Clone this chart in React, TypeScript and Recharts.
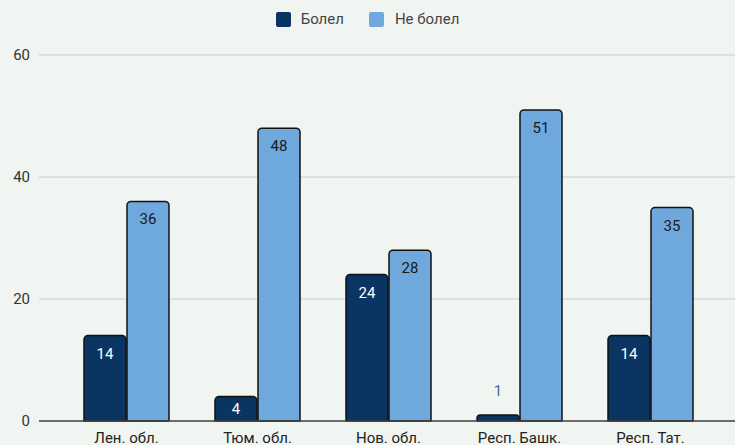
import React from 'react';
import { BarChart, Bar, XAxis, YAxis, CartesianGrid, Legend, LabelList, ReferenceLine } from 'recharts';

const regions = ['Лен. обл.', 'Тюм. обл.', 'Нов. обл.', 'Респ. Башк.', 'Респ. Тат.'];
const sick = [14, 4, 24, 1, 14];
const notSick = [36, 48, 28, 51, 35];
const yTicks = [0, 20, 40, 60];

const DARK = '#0a3461';
const LIGHT = '#6fa8dc';
const FONT = 'Roboto, "Noto Sans", sans-serif';

const data = regions.map((name, i) => ({ name, sick: sick[i], notSick: notSick[i] }));

// label inside the bar top, or above it when the bar is too short
const makeLabel = (inside: string) => (props: any) => {
  const { x, y, width, height, value } = props;
  const cx = Number(x) + Number(width) / 2;
  const h = Number(height);
  if (h < 15) {
    return (
      <text x={cx} y={Number(y) - 24} textAnchor="middle" dominantBaseline="central" fill="#44689a" fontSize={15} fontFamily={FONT}>
        {value}
      </text>
    );
  }
  return (
    <text x={cx} y={Number(y) + Math.min(18, h / 2)} textAnchor="middle" dominantBaseline="central" fill={inside} fontSize={15} fontFamily={FONT}>
      {value}
    </text>
  );
};

const CustomLegend = () => (
  <div style={{ display: 'flex', justifyContent: 'center', alignItems: 'center', fontFamily: FONT, fontSize: 15, color: '#444' }}>
    <span style={{ display: 'inline-block', width: 15, height: 15, background: DARK, borderRadius: 2, marginRight: 10 }} />
    <span style={{ marginRight: 25 }}>Болел</span>
    <span style={{ display: 'inline-block', width: 15, height: 15, background: LIGHT, borderRadius: 2, marginRight: 11 }} />
    <span>Не болел</span>
  </div>
);

export default function App() {
  return (
    <div style={{ position: 'fixed', left: 0, top: 0, width: 735, height: 445, background: '#f1f5f2', overflow: 'hidden' }}>
      <BarChart width={735} height={445} data={data} margin={{ top: 55, right: 0, bottom: 0, left: 0 }} barGap={1} barSize={42}>
        <CartesianGrid vertical={false} stroke="#d6d9d7" strokeWidth={1.5} />
        <XAxis
          dataKey="name"
          height={24}
          tickSize={0}
          tickMargin={11}
          axisLine={false}
          tickLine={false}
          padding={{ left: 22, right: 19 }}
          tick={{ fill: '#222', fontSize: 15, fontFamily: FONT }}
        />
        <YAxis
          width={39}
          domain={[0, 60]}
          ticks={yTicks}
          tickSize={0}
          tickMargin={9}
          axisLine={false}
          tickLine={false}
          tick={{ fill: '#333', fontSize: 15, fontFamily: FONT }}
        />
        <ReferenceLine y={0} stroke="#444" strokeWidth={1.5} />
        <Legend layout="horizontal" verticalAlign="middle" align="center" wrapperStyle={{ top: 10, left: 0, width: 735 }} content={<CustomLegend />} />
        <Bar dataKey="sick" fill={DARK} stroke="#111" strokeWidth={1.5} radius={[4, 4, 0, 0]} isAnimationActive={false}>
          <LabelList dataKey="sick" content={makeLabel('#ffffff')} />
        </Bar>
        <Bar dataKey="notSick" fill={LIGHT} stroke="#111" strokeWidth={1.5} radius={[4, 4, 0, 0]} isAnimationActive={false}>
          <LabelList dataKey="notSick" content={makeLabel('#1a1a1a')} />
        </Bar>
      </BarChart>
    </div>
  );
}
